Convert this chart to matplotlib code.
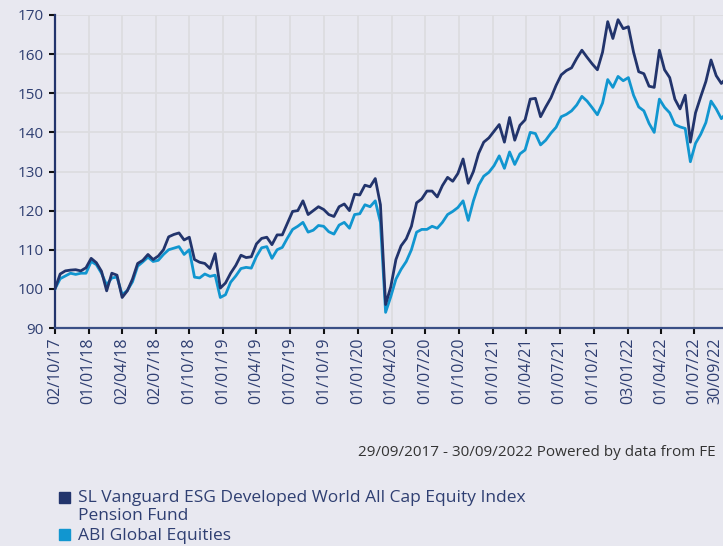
import matplotlib
matplotlib.use("Agg")
import matplotlib.pyplot as plt
import matplotlib.transforms as mtransforms
from matplotlib.patches import Rectangle
import pandas as pd

# fortnightly index levels, rebased to 100 on 02/10/2017
fund = [
    100.0, 103.8, 104.6, 104.8, 104.9, 104.6, 105.4, 107.8, 106.7, 104.5,
    99.5, 104.0, 103.5, 97.8, 99.5, 102.5, 106.5, 107.3, 108.8, 107.5,
    108.4, 110.0, 113.3, 113.9, 114.3, 112.5, 113.2, 107.5, 106.8, 106.5,
    105.2, 109.0, 100.2, 101.5, 104.0, 106.0, 108.6, 108.0, 108.2, 111.5,
    112.9, 113.2, 111.3, 113.8, 113.8, 116.8, 119.8, 120.0, 122.5, 119.0,
    120.0, 121.0, 120.3, 119.0, 118.5, 121.0, 121.7, 120.0, 124.2, 124.0,
    126.5, 126.1, 128.2, 121.5, 96.0, 100.5, 107.5, 111.0, 112.8, 116.0,
    122.0, 123.0, 125.0, 125.0, 123.5, 126.4, 128.5, 127.5, 129.5, 133.2,
    127.0, 130.0, 134.6, 137.5, 138.6, 140.3, 142.0, 137.5, 143.8, 138.0,
    141.8, 143.2, 148.5, 148.7, 144.0, 146.5, 148.8, 152.0, 154.7, 155.8,
    156.5, 158.9, 161.0, 159.2, 157.5, 156.0, 160.5, 168.3, 164.0, 168.8,
    166.5, 167.0, 160.5, 155.5, 155.0, 151.8, 151.5, 161.0, 156.0, 154.0,
    148.5, 146.0, 149.5, 137.5, 145.0, 149.1, 153.0, 158.5, 154.5, 152.5,
    154.0,
]
sector = [
    100.0, 102.6, 103.3, 104.0, 103.7, 104.0, 104.0, 107.0, 106.2, 104.0,
    101.0, 102.8, 103.0, 98.5, 99.6, 101.8, 105.8, 106.9, 108.1, 107.0,
    107.3, 108.8, 110.0, 110.4, 110.8, 108.8, 110.0, 103.0, 102.8, 103.8,
    103.2, 103.5, 97.8, 98.5, 101.7, 103.3, 105.2, 105.5, 105.3, 108.3,
    110.5, 110.8, 107.8, 110.0, 110.6, 113.0, 115.2, 116.0, 117.0, 114.5,
    115.0, 116.2, 116.0, 114.6, 114.0, 116.3, 117.0, 115.5, 119.0, 119.2,
    121.5, 121.0, 122.5, 117.0, 94.0, 98.0, 102.5, 105.0, 107.0, 110.0,
    114.5, 115.2, 115.2, 116.0, 115.5, 117.0, 119.0, 119.8, 120.8, 122.5,
    117.5, 122.5, 126.5, 128.8, 129.8, 131.5, 134.0, 130.8, 135.0, 131.8,
    134.5, 135.5, 140.0, 139.7, 136.8, 138.0, 139.8, 141.3, 144.0, 144.6,
    145.5, 147.0, 149.2, 148.0, 146.3, 144.5, 147.5, 153.5, 151.5, 154.3,
    153.2, 154.0, 149.5, 146.5, 145.5, 142.3, 140.0, 148.5, 146.4, 145.0,
    142.0, 141.4, 141.0, 132.5, 137.2, 139.5, 142.5, 148.0, 146.0, 143.5,
    145.0,
]
dates = pd.date_range("2017-10-02", periods=len(fund), freq="14D")

tick_dates = pd.to_datetime([
    "2017-10-02", "2018-01-01", "2018-04-02", "2018-07-02", "2018-10-01",
    "2019-01-01", "2019-04-01", "2019-07-01", "2019-10-01", "2020-01-01",
    "2020-04-01", "2020-07-01", "2020-10-01", "2021-01-01", "2021-04-01",
    "2021-07-01", "2021-10-01", "2022-01-03", "2022-04-01", "2022-07-01",
    "2022-09-30",
])
tick_labels = [d.strftime("%d/%m/%y") for d in tick_dates]

fund_name = "SL Vanguard ESG Developed World All Cap Equity Index\nPension Fund"
sector_name = "ABI Global Equities"
footer = "29/09/2017 - 30/09/2022 Powered by data from FE"

BG = "#e8e8f0"
NAVY = "#22346c"
CYAN = "#1196d0"
TEXT = "#2f3f72"

plt.rcParams["font.family"] = ["Open Sans", "DejaVu Sans"]

fig = plt.figure(figsize=(7.23, 5.46), dpi=100, facecolor=BG)
ax = fig.add_axes([55 / 723, 218 / 546, 673 / 723, 313 / 546], facecolor=BG)

ax.plot(dates, sector, color=CYAN, lw=2.0, zorder=3)
ax.plot(dates, fund, color=NAVY, lw=2.0, zorder=4)

ax.set_ylim(90, 170)
ax.set_yticks(range(90, 171, 10))
ax.set_xlim(tick_dates[0], tick_dates[-1])
ax.set_xticks(tick_dates)
ax.set_xticklabels(tick_labels, rotation=90, va="top", ha="center")

ax.grid(True, color="#dcdce0", lw=1.3, zorder=0)
ax.set_axisbelow(True)
for side in ("top", "right"):
    ax.spines[side].set_visible(False)
ax.spines["left"].set_color(NAVY)
ax.spines["left"].set_linewidth(1.6)
ax.spines["bottom"].set_color("#3a4f86")
ax.spines["bottom"].set_linewidth(1.6)
ax.tick_params(axis="both", colors="#111111", length=4, width=1.5,
               labelcolor=TEXT, labelsize=11)
ax.tick_params(axis="x", labelsize=11.5, pad=3)
ax.tick_params(axis="y", pad=4)

# keep the final date label inside the canvas
last = ax.get_xticklabels()[-1]
last.set_transform(last.get_transform()
                   + mtransforms.ScaledTranslation(-13 / 100, 0, fig.dpi_scale_trans))

fig.text(716 / 723, 1 - 452 / 546, footer, ha="right", va="center",
         fontsize=11, color="#333333")

# legend
for y_px, colour in ((497, NAVY), (534, CYAN)):
    fig.patches.append(Rectangle((59 / 723, 1 - (y_px + 5.5) / 546), 11 / 723, 11 / 546,
                                 transform=fig.transFigure, color=colour))
fig.text(78 / 723, 1 - 490 / 546, fund_name, ha="left", va="top",
         fontsize=12.5, color=TEXT, linespacing=1.13)
fig.text(78 / 723, 1 - 528 / 546, sector_name, ha="left", va="top",
         fontsize=12.5, color=TEXT)

fig.savefig("out.png", dpi=100, facecolor=BG)
